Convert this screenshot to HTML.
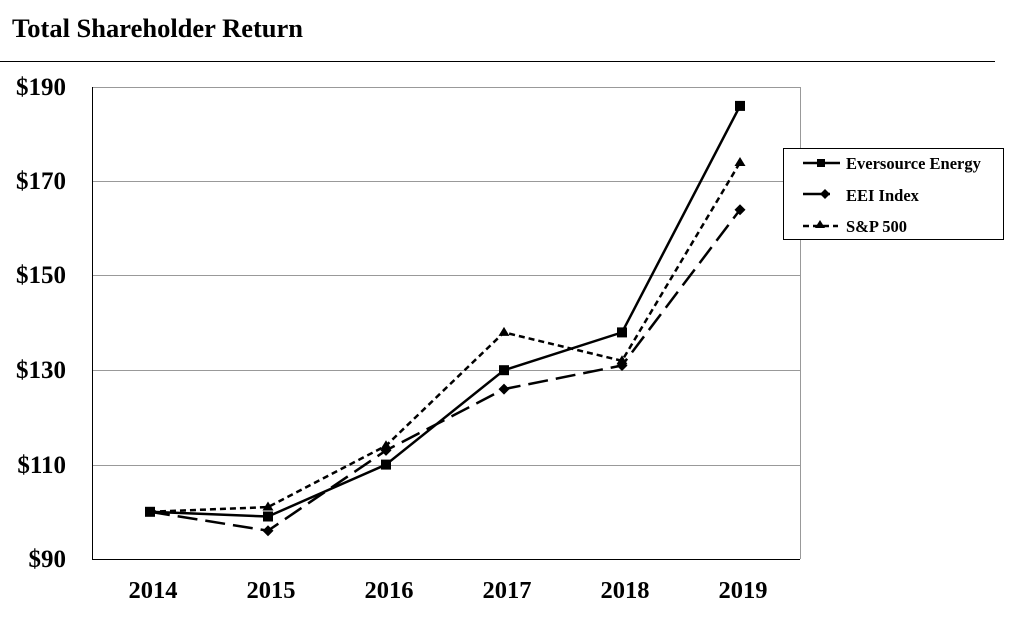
<!DOCTYPE html>
<html><head><meta charset="utf-8"><style>body{margin:0;background:#fff}</style></head><body>
<svg width="1019" height="617" xmlns="http://www.w3.org/2000/svg" font-family="Liberation Serif, serif" font-weight="bold">
<rect width="1019" height="617" fill="#fff"/>
<text x="12" y="37" font-size="26.5">Total Shareholder Return</text>
<line x1="0" y1="61.5" x2="995" y2="61.5" stroke="#000" stroke-width="1"/>
<g stroke="#999" stroke-width="1">
<line x1="92" y1="87.5" x2="800" y2="87.5"/>
<line x1="92" y1="181.5" x2="800" y2="181.5"/>
<line x1="92" y1="275.5" x2="800" y2="275.5"/>
<line x1="92" y1="370.5" x2="800" y2="370.5"/>
<line x1="92" y1="465.5" x2="800" y2="465.5"/>
<line x1="800.5" y1="87" x2="800.5" y2="559"/>
</g>
<line x1="92.5" y1="87" x2="92.5" y2="560" stroke="#000"/>
<line x1="92" y1="559.5" x2="800" y2="559.5" stroke="#000"/>
<g font-size="25" text-anchor="end">
<text x="66" y="95">$190</text><text x="66" y="189">$170</text><text x="66" y="283">$150</text>
<text x="66" y="378">$130</text><text x="66" y="473">$110</text><text x="66" y="567">$90</text>
</g>
<g font-size="24.5" text-anchor="middle">
<text x="153" y="598">2014</text><text x="271" y="598">2015</text><text x="389" y="598">2016</text>
<text x="507" y="598">2017</text><text x="625" y="598">2018</text><text x="743" y="598">2019</text>
</g>
<polyline fill="none" stroke="#000" stroke-width="2.5" stroke-dasharray="20,8" points="150,511.8 268,530.7 386,450.4 504,389.1 622,365.5 740,209.7"/>
<polyline fill="none" stroke="#000" stroke-width="2.5" stroke-dasharray="6,4" points="150,511.8 268,507.1 386,445.7 504,332.4 622,360.8 740,162.5"/>
<polyline fill="none" stroke="#000" stroke-width="2.5" points="150,511.8 268,516.5 386,464.6 504,370.2 622,332.4 740,105.9"/>
<g fill="#000">
<rect x="145" y="506.8" width="10" height="10"/><rect x="263" y="511.5" width="10" height="10"/><rect x="381" y="459.6" width="10" height="10"/><rect x="499" y="365.2" width="10" height="10"/><rect x="617" y="327.4" width="10" height="10"/><rect x="735" y="100.9" width="10" height="10"/>
<path d="M268,525.2l5.5,5.5-5.5,5.5-5.5-5.5z M386,444.9l5.5,5.5-5.5,5.5-5.5-5.5z M504,383.6l5.5,5.5-5.5,5.5-5.5-5.5z M622,360l5.5,5.5-5.5,5.5-5.5-5.5z M740,204.2l5.5,5.5-5.5,5.5-5.5-5.5z"/>
<path d="M268,501.5l5.5,9h-11z M386,440.2l5.5,9h-11z M504,326.9l5.5,9h-11z M622,355.3l5.5,9h-11z M740,157l5.5,9h-11z"/>
</g>
<rect x="783.5" y="148.5" width="220" height="91" fill="#fff" stroke="#000"/>
<line x1="803" y1="163" x2="840" y2="163" stroke="#000" stroke-width="2.5"/>
<rect x="817" y="159" width="8" height="8"/>
<line x1="803" y1="194" x2="830" y2="194" stroke="#000" stroke-width="2.5"/>
<path d="M825,189l5,5-5,5-5-5z"/>
<line x1="803" y1="226" x2="838" y2="226" stroke="#000" stroke-width="2.5" stroke-dasharray="6,4"/>
<path d="M820,220l5,8h-10z"/>
<g font-size="16.5"><text x="846" y="169">Eversource Energy</text><text x="846" y="201">EEI Index</text><text x="846" y="232">S&amp;P 500</text></g>
</svg>
</body></html>
